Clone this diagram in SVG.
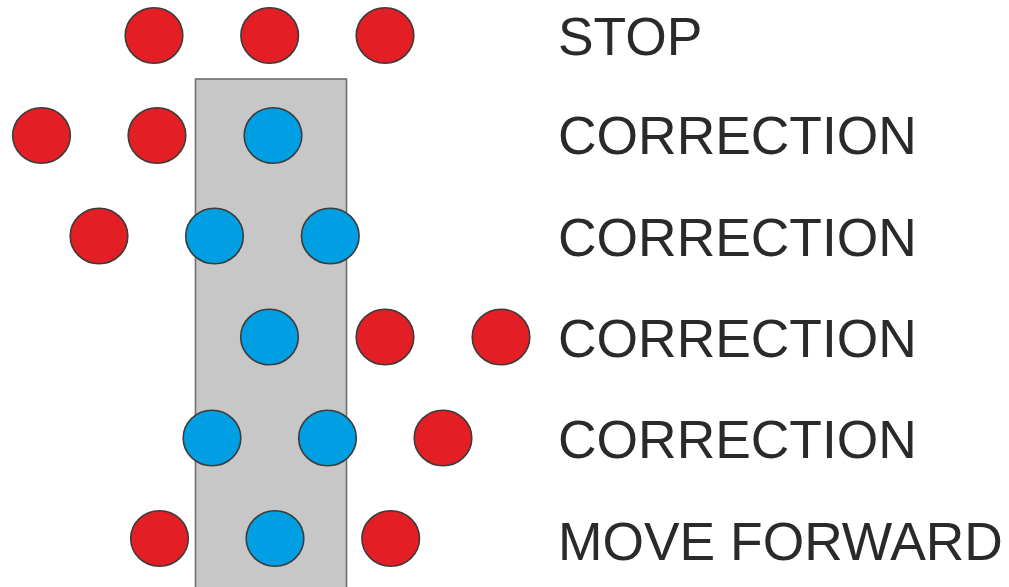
<svg xmlns="http://www.w3.org/2000/svg" width="1009" height="587" viewBox="0 0 1009 587">
<style>
.r{fill:#e31e24;stroke:#3c3c3b;stroke-width:1.6}
.b{fill:#009fe3;stroke:#3c3c3b;stroke-width:1.6}
.lbl{font-family:"Liberation Sans",Arial,sans-serif;font-size:53.4px;fill:#2b2a29}
</style>
<rect width="1009" height="587" fill="#ffffff"/>
<g id="track"><rect x="195.5" y="79" width="151" height="520" fill="#c6c7c6" stroke="#6f6f6f" stroke-width="1.6"/></g>
<g id="connectors"></g>
<g id="row1">
<ellipse class="r" cx="154" cy="35.5" rx="28.8" ry="27.8"/>
<ellipse class="r" cx="269.7" cy="35.5" rx="28.8" ry="27.8"/>
<ellipse class="r" cx="385" cy="35.5" rx="28.8" ry="27.8"/>
<text class="lbl" x="558" y="55">STOP</text>
</g>
<g id="row2">
<ellipse class="r" cx="41.5" cy="135.5" rx="28.8" ry="27.8"/>
<ellipse class="r" cx="157" cy="135.5" rx="28.8" ry="27.8"/>
<ellipse class="b" cx="273" cy="135.5" rx="28.8" ry="27.8"/>
<text class="lbl" x="558" y="154">CORRECTION</text>
</g>
<g id="row3">
<ellipse class="r" cx="99" cy="236" rx="28.8" ry="27.8"/>
<ellipse class="b" cx="214.5" cy="236" rx="28.8" ry="27.8"/>
<ellipse class="b" cx="330.3" cy="236" rx="28.8" ry="27.8"/>
<text class="lbl" x="558" y="255.7">CORRECTION</text>
</g>
<g id="row4">
<ellipse class="b" cx="269.5" cy="337" rx="28.8" ry="27.8"/>
<ellipse class="r" cx="385" cy="337" rx="28.8" ry="27.8"/>
<ellipse class="r" cx="501" cy="337" rx="28.8" ry="27.8"/>
<text class="lbl" x="558" y="356.7">CORRECTION</text>
</g>
<g id="row5">
<ellipse class="b" cx="212" cy="438" rx="28.8" ry="27.8"/>
<ellipse class="b" cx="327.5" cy="438" rx="28.8" ry="27.8"/>
<ellipse class="r" cx="443" cy="438" rx="28.8" ry="27.8"/>
<text class="lbl" x="558" y="457.7">CORRECTION</text>
</g>
<g id="row6">
<ellipse class="r" cx="159.5" cy="538.5" rx="28.8" ry="27.8"/>
<ellipse class="b" cx="275" cy="538.5" rx="28.8" ry="27.8"/>
<ellipse class="r" cx="390.7" cy="538.5" rx="28.8" ry="27.8"/>
<text class="lbl" x="558" y="560">MOVE FORWARD</text>
</g>
</svg>
